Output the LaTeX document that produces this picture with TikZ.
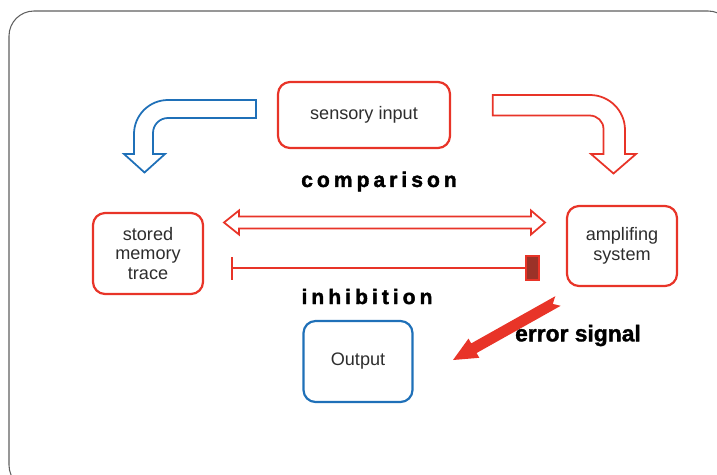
\documentclass[tikz,border=0pt]{standalone}
\usepackage{fontspec}
\setmainfont{Liberation Sans}
\newfontfamily\spacedfont[LetterSpace=19,FakeBold=1.8]{Liberation Sans}
\newfontfamily\heavyfont[FakeBold=1.4]{Liberation Sans}
\usetikzlibrary{arrows.meta,calc}

\definecolor{boxred}{RGB}{232,52,40}
\definecolor{boxblue}{RGB}{31,112,184}
\definecolor{blockred}{RGB}{155,50,40}
\definecolor{labelgray}{RGB}{45,45,45}
\definecolor{framegray}{RGB}{95,95,95}

\tikzset{
	stage/.style={draw=boxred,line width=1.25pt,rounded corners=0.24cm,align=center,
		text=labelgray,font=\fontsize{10.3}{11.2}\selectfont,inner sep=0pt},
	bentarrow/.style={line width=1pt,fill=white},
	tag/.style={font=\spacedfont\bfseries\fontsize{12}{14}\selectfont,text=black},
}

\begin{document}
\begin{tikzpicture}[x=0.02cm,y=-0.02cm]

			\useasboundingbox (0,0) rectangle (717,474);
			\draw[framegray,line width=0.6pt,rounded corners=0.5cm] (9,11) rectangle (733,490);

			\node[stage,minimum width=3.44cm,minimum height=1.32cm] (sens) at (364,115) {sensory input};
			\node[stage,minimum width=2.2cm,minimum height=1.62cm] (mem) at (148,253.5) {stored\\memory\\trace};
			\node[stage,minimum width=2.2cm,minimum height=1.6cm] (amp) at (622,246) {amplifing\\system};
			\node[stage,draw=boxblue,minimum width=2.18cm,minimum height=1.62cm] (out) at (358,361.5) {Output};

			% bent arrows
			\draw[bentarrow,draw=boxblue] (256,100) -- (168,100) .. controls (149.2,100) and (134,115.2) .. (134,134)
				-- (134,154) -- (124,154) -- (144.5,172.5) -- (165,154) -- (153,154) -- (153,133)
				.. controls (153,124.7) and (159.7,118) .. (168,118) -- (256,118) -- cycle;
			\draw[bentarrow,draw=boxred] (492.7,95) -- (590,95) .. controls (609.3,95) and (625,110.7) .. (625,130)
				-- (625,154) -- (636,154) -- (613.5,173.5) -- (591,154) -- (603.5,154) -- (603.5,129)
				.. controls (603.5,121.3) and (597.2,115.5) .. (589.5,115.5) -- (492.7,115.5) -- cycle;

			\node[tag] (cmp) at (379,181.5) {comparison};

			\coordinate (cmpL) at (224,222.5);
			\coordinate (cmpR) at (545,222.5);
			\draw[boxred,line width=1pt,fill=white] (cmpL) -- ($(cmpL)+(15,-12)$) -- ($(cmpL)+(15,-6)$)
				-- ($(cmpR)+(-14,-6)$) -- ($(cmpR)+(-14,-12)$) -- (cmpR) -- ($(cmpR)+(-14,12)$)
				-- ($(cmpR)+(-14,6)$) -- ($(cmpL)+(15,6)$) -- ($(cmpL)+(15,12)$) -- cycle;

			\coordinate (inhL) at (230.7,268.3);
			\node[draw=boxred,fill=blockred,line width=1pt,minimum width=0.26cm,minimum height=0.48cm,inner sep=0pt] (blk) at (532.5,268.3) {};
			\draw[boxred,line width=1.25pt,{Bar[width=0.46cm]}-] (inhL) -- (blk.west);

			\node[tag] (inh) at (367,296.5) {inhibition};

			% error signal
			\fill[boxred] (555.3,296.2) -- (471.2,343.4) -- (468.5,338.6) -- (453,360) -- (479.3,357.8)
				-- (476.6,353) -- (560.7,305.8) -- (552.8,303.9) -- cycle;
			\node[font=\heavyfont\bfseries\fontsize{13}{15}\selectfont] (err) at (578,335.5) {error signal};

		\end{tikzpicture}
\end{document}
